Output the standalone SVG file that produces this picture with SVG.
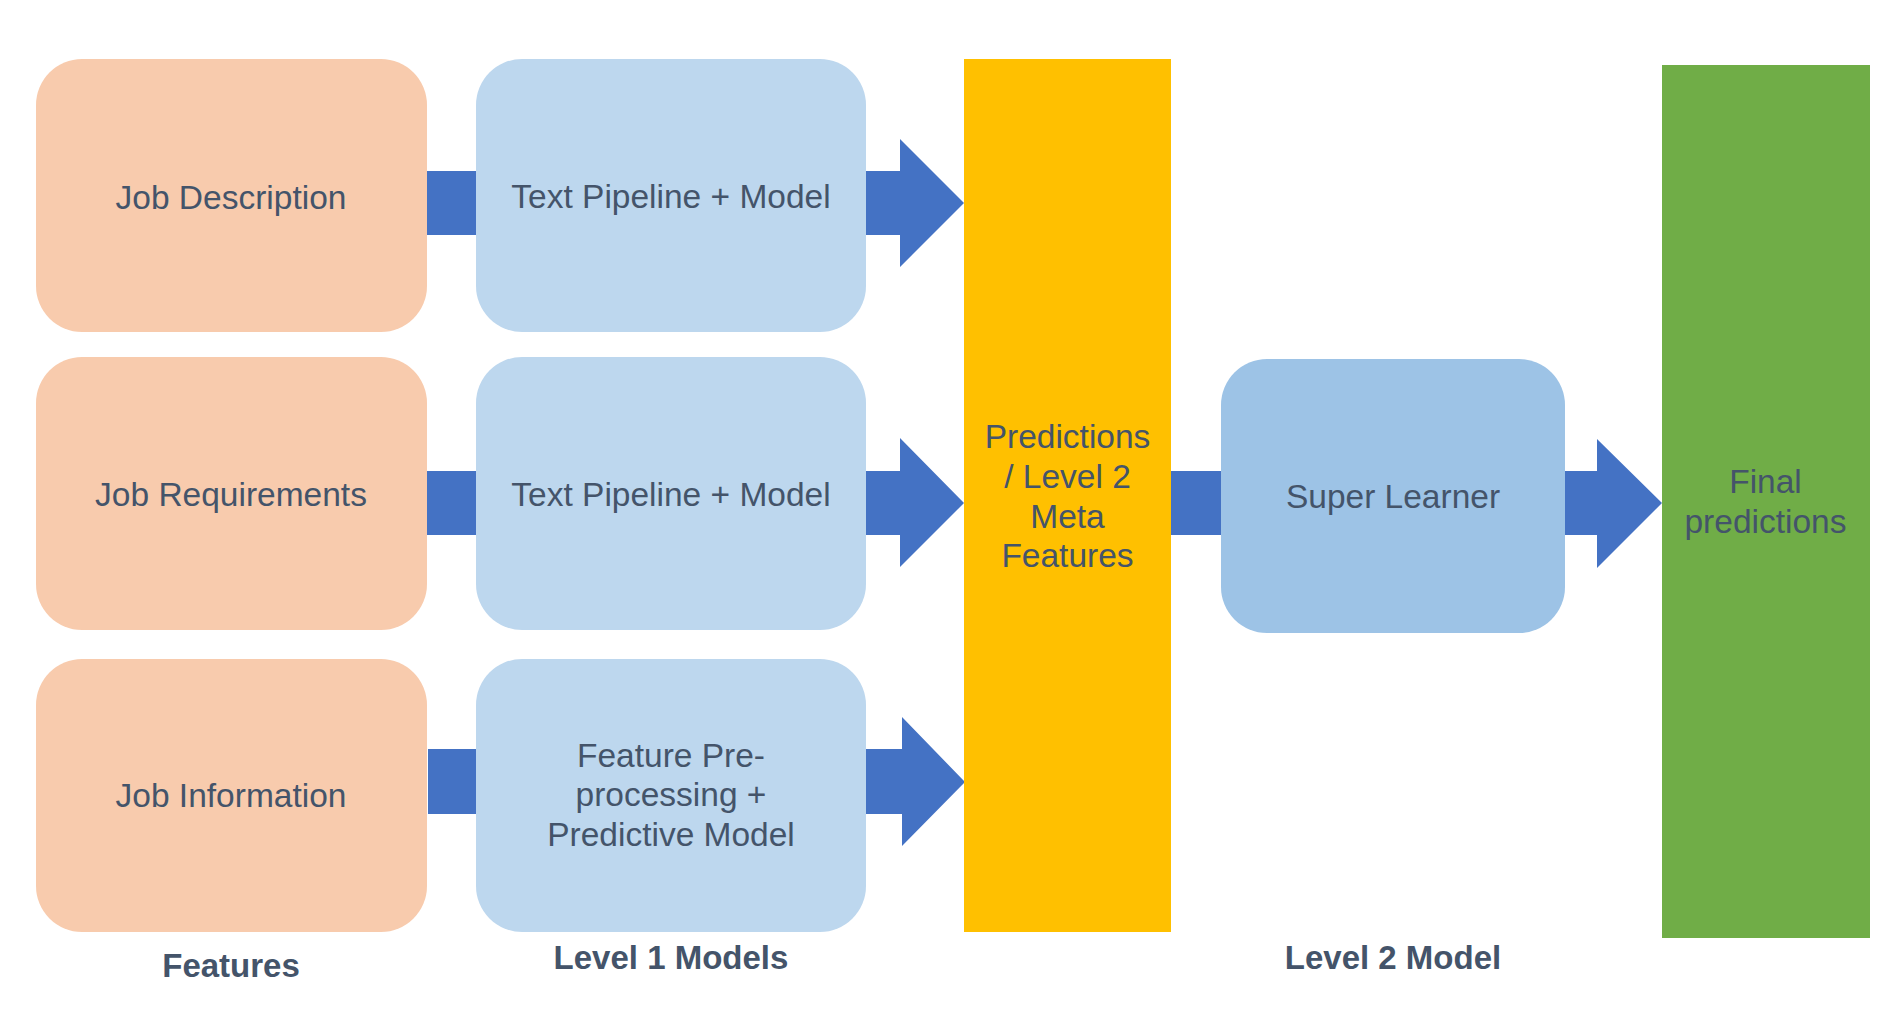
<svg xmlns="http://www.w3.org/2000/svg" width="1899" height="1016" viewBox="0 0 1899 1016">
<style>
.feat{fill:#F8CBAD}
.l1{fill:#BDD7EE}
.l2{fill:#9DC3E6}
.conn{fill:#4472C4}
.t{font-family:"Liberation Sans",Arial,sans-serif;font-size:33.5px;fill:#44546A;text-anchor:middle}
.lbl{font-family:"Liberation Sans",Arial,sans-serif;font-size:33px;font-weight:bold;fill:#44546A;text-anchor:middle}
</style>
<rect width="1899" height="1016" fill="#FFFFFF"/>
<g id="connectors">
<rect class="conn" x="426" y="171" width="51" height="64"/>
<rect class="conn" x="426" y="471" width="51" height="64"/>
<rect class="conn" x="428" y="749" width="49" height="65"/>
<rect class="conn" x="1170" y="471" width="52" height="64"/>
<polygon class="conn" points="865,171 900,171 900,139 964,203 900,267 900,235 865,235"/>
<polygon class="conn" points="865,471 900,471 900,438 964,503 900,567 900,535 865,535"/>
<polygon class="conn" points="865,749 902,749 902,717 965,782 902,846 902,814 865,814"/>
<polygon class="conn" points="1564,471 1597,471 1597,439 1662,503 1597,568 1597,535 1564,535"/>
</g>
<g id="job-description">
<rect class="feat" x="36" y="59" width="391" height="273" rx="46" ry="46"/>
<text class="t" x="231" y="209">Job Description</text>
</g>
<g id="job-requirements">
<rect class="feat" x="36" y="357" width="391" height="273" rx="46" ry="46"/>
<text class="t" x="231" y="506">Job Requirements</text>
</g>
<g id="job-information">
<rect class="feat" x="36" y="659" width="391" height="273" rx="46" ry="46"/>
<text class="t" x="231" y="807">Job Information</text>
</g>
<g id="text-pipeline-1">
<rect class="l1" x="476" y="59" width="390" height="273" rx="46" ry="46"/>
<text class="t" x="671" y="208">Text Pipeline + Model</text>
</g>
<g id="text-pipeline-2">
<rect class="l1" x="476" y="357" width="390" height="273" rx="46" ry="46"/>
<text class="t" x="671" y="506">Text Pipeline + Model</text>
</g>
<g id="feature-preprocessing">
<rect class="l1" x="476" y="659" width="390" height="273" rx="46" ry="46"/>
<text class="t" x="671" y="767">Feature Pre-</text>
<text class="t" x="671" y="806">processing +</text>
<text class="t" x="671" y="846">Predictive Model</text>
</g>
<g id="meta-features">
<rect x="964" y="59" width="207" height="873" fill="#FFC000"/>
<text class="t" x="1067.5" y="448">Predictions</text>
<text class="t" x="1067.5" y="488">/ Level 2</text>
<text class="t" x="1067.5" y="528">Meta</text>
<text class="t" x="1067.5" y="567">Features</text>
</g>
<g id="super-learner">
<rect class="l2" x="1221" y="359" width="344" height="274" rx="46" ry="46"/>
<text class="t" x="1393" y="508">Super Learner</text>
</g>
<g id="final-predictions">
<rect x="1662" y="65" width="208" height="873" fill="#70AD47"/>
<text class="t" x="1765.5" y="493">Final</text>
<text class="t" x="1765.5" y="533">predictions</text>
</g>
<g id="labels">
<text class="lbl" x="231" y="977">Features</text>
<text class="lbl" x="671" y="969">Level 1 Models</text>
<text class="lbl" x="1393" y="969">Level 2 Model</text>
</g>
</svg>
